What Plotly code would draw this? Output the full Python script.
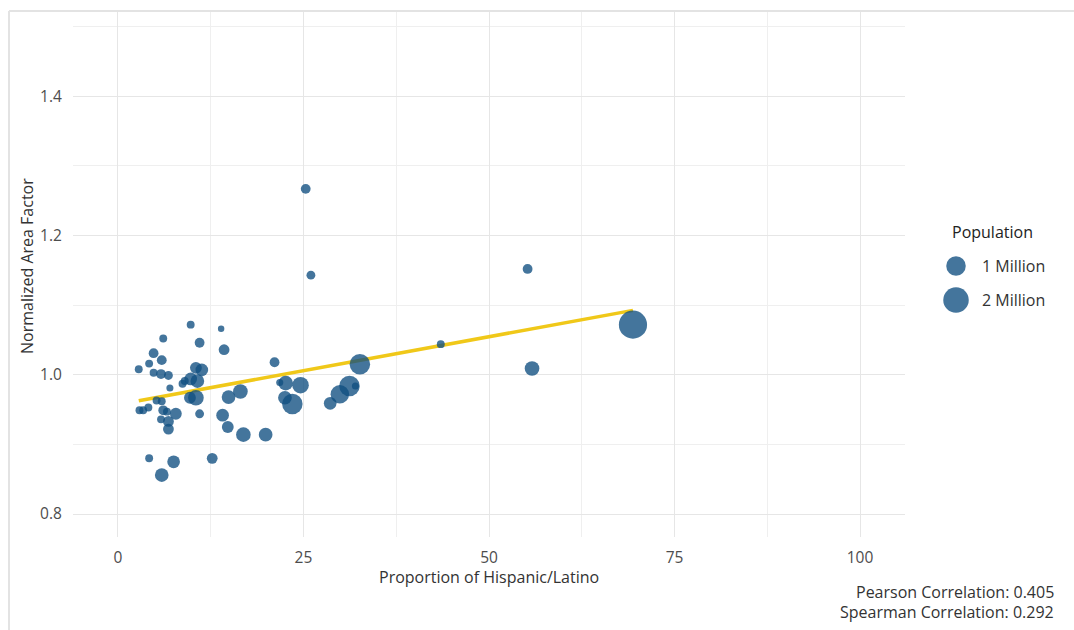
import numpy as np
import plotly.graph_objects as go

# ---------------- data ----------------
hispanic_pct = [25.3, 26.0, 55.2, 43.5, 55.8, 69.4, 32.6,
                9.8, 13.9, 6.1, 11.0, 14.3, 4.8, 4.2, 5.9, 21.1, 2.8,
                4.8, 5.8, 6.8, 10.5, 11.3, 9.8, 10.7, 9.0, 8.7, 7.0,
                9.7, 10.5, 11.0, 14.9, 16.5, 22.6, 21.8, 24.6, 22.5, 23.5,
                2.9, 3.4, 4.1, 5.2, 5.9, 6.1, 6.6, 7.8, 5.8, 6.8, 6.8,
                14.1, 14.8, 16.9, 19.9, 4.2, 7.5, 12.7, 5.9,
                28.6, 29.9, 31.2, 32.0]
area_factor = [1.267, 1.143, 1.152, 1.044, 1.009, 1.072, 1.015,
               1.072, 1.066, 1.052, 1.046, 1.036, 1.031, 1.016, 1.021, 1.018, 1.008,
               1.003, 1.001, 0.999, 1.010, 1.007, 0.994, 0.991, 0.991, 0.987, 0.981,
               0.967, 0.967, 0.944, 0.968, 0.976, 0.988, 0.989, 0.985, 0.967, 0.958,
               0.949, 0.949, 0.953, 0.963, 0.962, 0.949, 0.947, 0.944, 0.936, 0.933, 0.922,
               0.942, 0.925, 0.914, 0.914, 0.880, 0.875, 0.880, 0.856,
               0.959, 0.972, 0.984, 0.984]
population_m = [0.11, 0.07, 0.11, 0.04, 0.44, 2.56, 1.14,
                0.04, 0.01, 0.04, 0.11, 0.16, 0.11, 0.04, 0.11, 0.11, 0.04,
                0.04, 0.11, 0.07, 0.22, 0.28, 0.28, 0.36, 0.04, 0.04, 0.02,
                0.22, 0.54, 0.07, 0.36, 0.44, 0.44, 0.02, 0.64, 0.36, 1.14,
                0.04, 0.04, 0.04, 0.04, 0.04, 0.11, 0.04, 0.22, 0.04, 0.16, 0.16,
                0.28, 0.22, 0.44, 0.36, 0.04, 0.28, 0.16, 0.36,
                0.28, 0.87, 1.14, 0.02]

trend_intercept = 0.9571
trend_slope = 0.001951
pearson_r = 0.405
spearman_r = 0.292

legend_pops = [1, 2]
legend_labels = ["1 Million", "2 Million"]
x_ticks = [0, 25, 50, 75, 100]
x_minor = [12.5, 37.5, 62.5, 87.5]
y_ticks = [0.8, 1.0, 1.2, 1.4]
y_minor = [0.9, 1.1, 1.3, 1.5]

# ---------------- styling ----------------
W, H = 1074, 630
ML, MR, MT, MB = 73, 10, 12, 93
PLOT_W = W - ML - MR
PLOT_H = H - MT - MB
PANEL_RIGHT = 905
main_dom = (PANEL_RIGHT - ML) / PLOT_W

FONT = "Open Sans"
TXT = 16
POINT_COLOR = "rgb(15,78,128)"
POINT_OPACITY = 0.78
LINE_COLOR = "rgb(240,200,25)"
GRID = "#e6e6e6"
GRID_MINOR = "#efefef"


def size_px(p):
    return 5 + 14.5 * np.sqrt(np.asarray(p, dtype=float))


def px_to_paper_x(px):
    return (px - ML) / PLOT_W


def px_to_paper_y(py):
    return (H - MB - py) / PLOT_H


fig = go.Figure()

# trend line across data range
xs = np.array([min(hispanic_pct), max(hispanic_pct)])
fig.add_trace(go.Scatter(
    x=xs, y=trend_intercept + trend_slope * xs, mode="lines",
    line=dict(color=LINE_COLOR, width=3.5), showlegend=False, hoverinfo="skip"))

fig.add_trace(go.Scatter(
    x=hispanic_pct, y=area_factor, mode="markers",
    marker=dict(size=size_px(population_m), color=POINT_COLOR, opacity=POINT_OPACITY,
                line=dict(width=0)),
    showlegend=False))

# manual legend on auxiliary axes (px coordinates)
leg_x = 956
leg_y = [266, 300]
fig.add_trace(go.Scatter(
    x=[leg_x] * len(legend_pops), y=leg_y, mode="markers",
    marker=dict(size=size_px(legend_pops), color=POINT_COLOR, opacity=POINT_OPACITY,
                line=dict(width=0)),
    xaxis="x2", yaxis="y2", showlegend=False, hoverinfo="skip"))

annotations = []
annotations.append(dict(x=950, y=232, xref="x2", yref="y2", text="Population",
                        showarrow=False, xanchor="left", yanchor="middle",
                        font=dict(family=FONT, size=TXT, color="#222222")))
for lab, yy in zip(legend_labels, leg_y):
    annotations.append(dict(x=980, y=yy, xref="x2", yref="y2", text=lab,
                            showarrow=False, xanchor="left", yanchor="middle",
                            font=dict(family=FONT, size=TXT, color="#333333")))

annotations.append(dict(x=px_to_paper_x(489), y=px_to_paper_y(577), xref="paper", yref="paper",
                        text="Proportion of Hispanic/Latino", showarrow=False,
                        xanchor="center", yanchor="middle",
                        font=dict(family=FONT, size=TXT, color="#333333")))
annotations.append(dict(x=px_to_paper_x(27), y=px_to_paper_y(266), xref="paper", yref="paper",
                        text="Normalized Area Factor", showarrow=False, textangle=-90,
                        xanchor="center", yanchor="middle",
                        font=dict(family=FONT, size=TXT, color="#333333")))
annotations.append(dict(x=px_to_paper_x(1056), y=px_to_paper_y(592), xref="paper", yref="paper",
                        text=f"Pearson Correlation: {pearson_r:.3f}", showarrow=False,
                        xanchor="right", yanchor="middle",
                        font=dict(family=FONT, size=TXT, color="#333333")))
annotations.append(dict(x=px_to_paper_x(1056), y=px_to_paper_y(612), xref="paper", yref="paper",
                        text=f"Spearman Correlation: {spearman_r:.3f}", showarrow=False,
                        xanchor="right", yanchor="middle",
                        font=dict(family=FONT, size=TXT, color="#333333")))

# outer frame lines (image border)
shapes = [
    dict(type="line", xref="paper", yref="paper",
         x0=px_to_paper_x(9), x1=px_to_paper_x(W), y0=px_to_paper_y(11), y1=px_to_paper_y(11),
         line=dict(color="#e3e3e3", width=2)),
    dict(type="line", xref="paper", yref="paper",
         x0=px_to_paper_x(9), x1=px_to_paper_x(9), y0=px_to_paper_y(11), y1=px_to_paper_y(H),
         line=dict(color="#e3e3e3", width=2)),
]

fig.update_layout(
    width=W, height=H,
    margin=dict(l=ML, r=MR, t=MT, b=MB),
    paper_bgcolor="white", plot_bgcolor="white",
    font=dict(family=FONT, size=TXT, color="#4d4d4d"),
    xaxis=dict(domain=[0, main_dom], range=[-6.06, 106.06],
               tickvals=x_ticks, ticktext=[str(v) for v in x_ticks],
               showgrid=True, gridcolor=GRID, gridwidth=1.4, zeroline=False,
               ticks="outside", ticklen=6, tickcolor="rgba(0,0,0,0)",
               tickfont=dict(family=FONT, size=15.5, color="#4d4d4d"),
               minor=dict(tickvals=x_minor, showgrid=True, gridcolor=GRID_MINOR, gridwidth=1.1),
               showline=False, fixedrange=True),
    yaxis=dict(range=[0.767, 1.521],
               tickvals=y_ticks, ticktext=[f"{v:.1f}" for v in y_ticks],
               showgrid=True, gridcolor=GRID, gridwidth=1.4, zeroline=False,
               ticks="outside", ticklen=7, tickcolor="rgba(0,0,0,0)",
               tickfont=dict(family=FONT, size=15.5, color="#4d4d4d"),
               minor=dict(tickvals=y_minor, showgrid=True, gridcolor=GRID_MINOR, gridwidth=1.1),
               showline=False, fixedrange=True),
    xaxis2=dict(domain=[main_dom, 1], range=[PANEL_RIGHT, W - MR], visible=False,
                anchor="y2", fixedrange=True),
    yaxis2=dict(domain=[0, 1], range=[H - MB, MT], visible=False, anchor="x2", fixedrange=True),
    annotations=annotations,
    shapes=shapes,
    showlegend=False,
)

fig.write_html("out.html", config={"displayModeBar": False},
               post_script="document.body.style.margin='0px';")
